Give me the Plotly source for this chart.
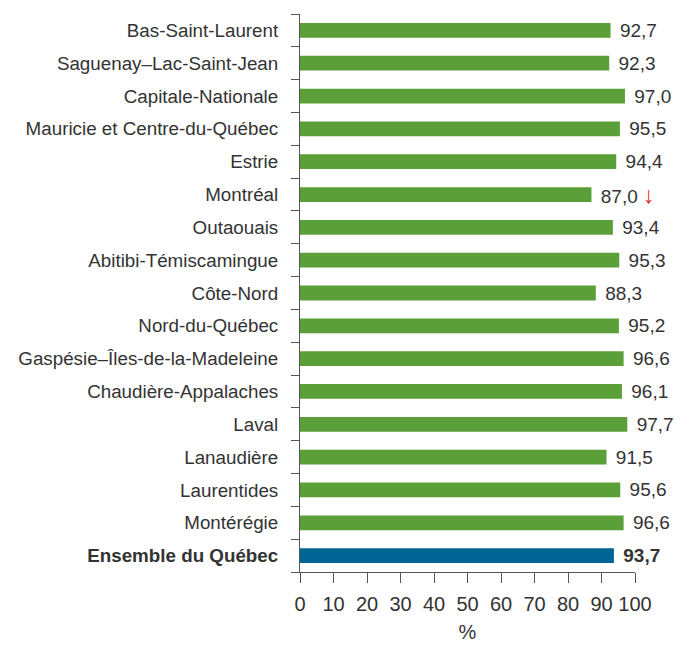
import plotly.graph_objects as go

categories = ["Bas-Saint-Laurent", "Saguenay–Lac-Saint-Jean", "Capitale-Nationale",
              "Mauricie et Centre-du-Québec", "Estrie", "Montréal", "Outaouais",
              "Abitibi-Témiscamingue", "Côte-Nord", "Nord-du-Québec",
              "Gaspésie–Îles-de-la-Madeleine", "Chaudière-Appalaches", "Laval",
              "Lanaudière", "Laurentides", "Montérégie", "Ensemble du Québec"]
values = [92.7, 92.3, 97.0, 95.5, 94.4, 87.0, 93.4, 95.3, 88.3, 95.2,
          96.6, 96.1, 97.7, 91.5, 95.6, 96.6, 93.7]
flags = ["", "", "", "", "", "down", "", "", "", "", "", "", "", "", "", "", ""]
x_ticks = [0, 10, 20, 30, 40, 50, 60, 70, 80, 90, 100]

GREEN = "#5b9f39"
BLUE = "#006495"
FONT = "Liberation Sans Narrow, Arial Narrow, Liberation Sans, Arial, sans-serif"

n = len(categories)
colors = [BLUE if i == n - 1 else GREEN for i in range(n)]
texts = []
for i, (v, f) in enumerate(zip(values, flags)):
    s = f"{v:.1f}".replace(".", ",")
    if i == n - 1:
        s = f"<b>{s}</b>"
    if f == "down":
        s += " <span style='color:#e8262a;font-size:23px'>↓</span>"
    texts.append("\u2004" + s)

ticktext = [f"<b>{c}</b>" if i == n - 1 else c for i, c in enumerate(categories)]

fig = go.Figure(go.Bar(
    x=values, y=categories, orientation="h",
    marker=dict(color=colors, line=dict(width=0)),
    width=0.45,
    text=texts, textposition="outside", cliponaxis=False, constraintext="none",
    textfont=dict(family=FONT, size=19, color="#333333"),
    hoverinfo="skip",
))

fig.update_layout(
    width=677, height=647,
    margin=dict(l=300, r=42, t=14, b=75, autoexpand=False),
    paper_bgcolor="white", plot_bgcolor="white",
    font=dict(family=FONT, size=18, color="#333333"),
    showlegend=False,
)
fig.update_xaxes(
    range=[0, 100], tickvals=x_ticks, ticktext=[str(t) for t in x_ticks],
    showgrid=False, zeroline=False, showline=True, linecolor="#555555", linewidth=1,
    ticks="outside", ticklen=10, tickcolor="#555555", automargin=False,
    tickfont=dict(family=FONT, size=20, color="#333333"),
    ticklabelstandoff=4,
    title=dict(text="%", font=dict(family=FONT, size=20, color="#333333"), standoff=10),
)
fig.update_yaxes(
    type="category", categoryorder="array", categoryarray=categories,
    autorange="reversed", tickvals=categories, ticktext=ticktext,
    tickson="boundaries", ticks="outside", ticklen=8, tickcolor="#555555",
    showline=True, linecolor="#555555", linewidth=1, showgrid=False, automargin=False,
    tickfont=dict(family=FONT, size=18.8, color="#333333"),
    ticklabelstandoff=17,
)

fig.write_html(
    "out.html",
    config={"displayModeBar": False},
    post_script="document.body.style.margin='0';document.body.style.overflow='hidden';",
)
